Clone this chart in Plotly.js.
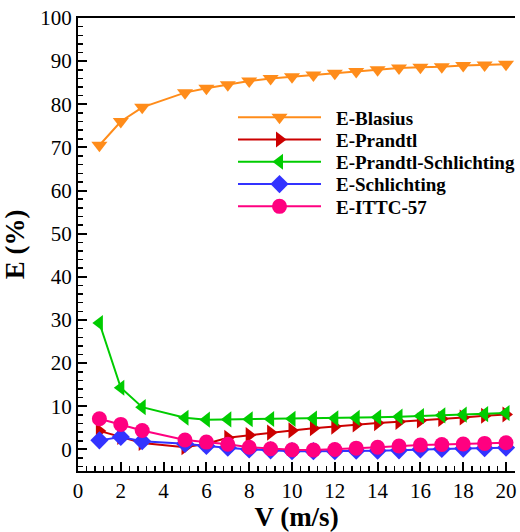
<!DOCTYPE html>
<html>
<head>
<meta charset="utf-8">
<script src="https://cdn.plot.ly/plotly-3.0.1.min.js"></script>
<style>html,body{margin:0;padding:0;background:#fff;}#chart{width:520px;height:532px;}</style>
</head>
<body>
<div id="chart"></div>
<script>
const velocity = [1,2,3,5,6,7,8,9,10,11,12,13,14,15,16,17,18,19,20];
const eBlasius = [70.5,76.0,79.3,82.7,83.7,84.5,85.4,86.0,86.4,86.8,87.2,87.6,88.0,88.4,88.6,88.7,89.0,89.1,89.3];
const ePrandtl = [4.3,2.9,1.5,0.5,1.3,2.7,3.3,3.9,4.4,4.9,5.3,5.8,6.1,6.4,6.7,7.1,7.4,7.8,8.1];
const ePrandtlSchlichting = [29.3,14.3,9.8,7.35,6.9,6.95,7.0,7.05,7.1,7.15,7.2,7.3,7.45,7.6,7.75,7.9,8.05,8.2,8.45];
const eSchlichting = [2.1,2.9,1.9,1.3,0.8,0.4,0.0,-0.2,-0.4,-0.4,-0.4,-0.3,-0.3,-0.2,0.0,0.1,0.2,0.3,0.4];
const eITTC57 = [7.1,5.8,4.4,2.2,1.7,1.2,0.5,0.15,-0.1,-0.15,0.0,0.3,0.5,0.8,1.0,1.15,1.25,1.4,1.55];
const seriesNames = ['E-Blasius','E-Prandtl','E-Prandtl-Schlichting','E-Schlichting','E-ITTC-57'];

const series = [eBlasius, ePrandtl, ePrandtlSchlichting, eSchlichting, eITTC57];
const colors = ['#FF8C1A','#CC0000','#00CC00','#3333FF','#FF0080'];
const symbols = ['triangle-down','triangle-right','triangle-left','diamond','circle'];
const sizes = [14,14,14,14,15];

const traces = series.map((ys, i) => ({
  x: velocity, y: ys, name: seriesNames[i], type: 'scatter', mode: 'lines+markers',
  line: {color: colors[i], width: 2},
  marker: {symbol: symbols[i], size: sizes[i], color: colors[i], line: {width: 0}}
}));

const font = '"Liberation Serif"';
const layout = {
  width: 520, height: 532,
  margin: {l: 78, r: 0, t: 18, b: 61},
  paper_bgcolor: '#fff', plot_bgcolor: '#fff',
  showlegend: true,
  legend: {x: 0.3665, y: 0.8227, xanchor: 'left', yanchor: 'top', bgcolor: 'rgba(0,0,0,0)',
           itemwidth: 88,
           font: {family: font, size: 19, color: '#000', weight: 'bold'}, tracegroupgap: 0},
  xaxis: {
    range: [0, 20.42], tick0: 0, dtick: 2, ticks: 'inside', ticklen: 9, tickwidth: 2, tickcolor: '#000',
    minor: {dtick: 0.4, ticks: 'inside', ticklen: 5, tickwidth: 1.5, tickcolor: '#000', showgrid: false},
    showline: true, linecolor: '#000', linewidth: 2, mirror: true,
    showgrid: false, zeroline: false, ticklabeloverflow: 'allow',
    tickfont: {family: font, size: 21, color: '#000'},
    title: {text: 'V (m/s)', font: {family: font, size: 27, color: '#000', weight: 'bold'}, standoff: 3}
  },
  yaxis: {
    range: [-5, 100], tick0: 0, dtick: 10, ticks: 'inside', ticklen: 9, tickwidth: 2, tickcolor: '#000',
    minor: {dtick: 2, ticks: 'inside', ticklen: 5, tickwidth: 1.5, tickcolor: '#000', showgrid: false},
    showline: true, linecolor: '#000', linewidth: 2, mirror: false,
    showgrid: false, zeroline: false, ticklabeloverflow: 'allow',
    tickfont: {family: font, size: 21, color: '#000'},
    title: {text: 'E (%)', font: {family: font, size: 27, color: '#000', weight: 'bold'}, standoff: 8}
  }
};

Plotly.newPlot('chart', traces, layout, {displayModeBar: false, staticPlot: true}).then(gd => {
  // restyle legend samples: long lines with centred marker, tighter row spacing
  const items = gd.querySelectorAll('.legend .traces');
  let firstY = null;
  items.forEach((g, i) => {
    const m = /translate\(\s*([-\d.]+)[ ,]+([-\d.]+)/.exec(g.getAttribute('transform') || '');
    const y = m ? parseFloat(m[2]) : 0;
    if (firstY === null) firstY = y;
    g.setAttribute('transform', 'translate(0,' + (firstY + i * 22.3) + ')');
    g.querySelectorAll('.legendlines path').forEach(p => p.setAttribute('d', 'M0,0h83'));
    g.querySelectorAll('.legendpoints path').forEach(p => p.setAttribute('transform', 'translate(41.5,0)'));
    g.querySelectorAll('text.legendtext').forEach(t => t.setAttribute('x', '98'));
  });
});
</script>
</body>
</html>
